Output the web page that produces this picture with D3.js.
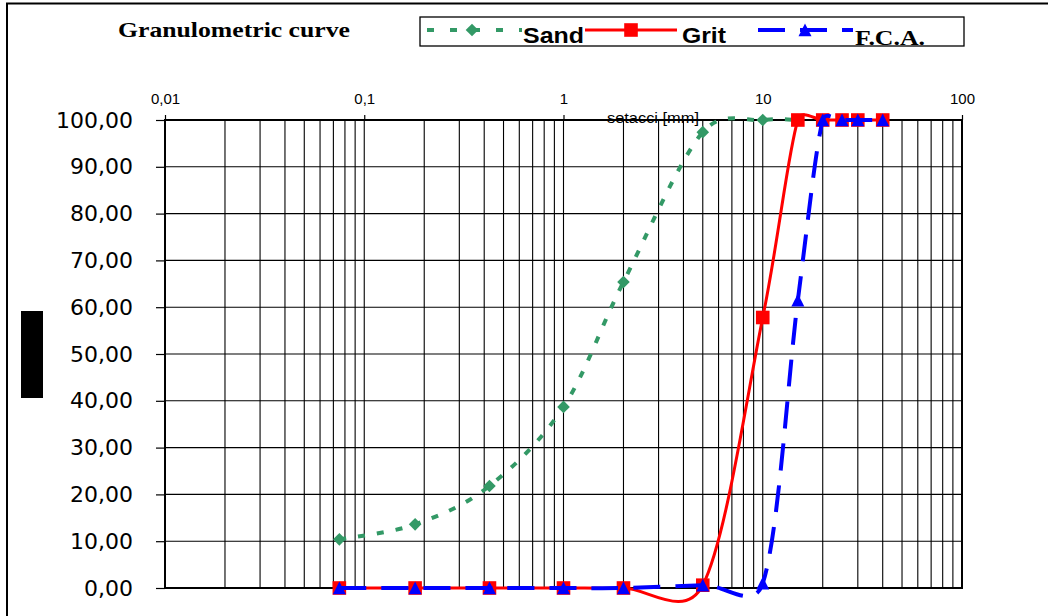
<!DOCTYPE html>
<html>
<head>
<meta charset="utf-8">
<script src="https://cdn.jsdelivr.net/npm/d3@7"></script>
<style>
  html, body { margin: 0; padding: 0; background: #fff; }
  svg { display: block; }
</style>
</head>
<body>
<svg id="chart" width="1048" height="616"></svg>
<script>
// Sieve openings (mm) and percentage passing for each aggregate
const sieveSizes   = [0.075, 0.18, 0.425, 1, 2, 5, 10, 15, 20, 25, 30, 40];
const sandPassing  = [10.4, 13.6, 21.8, 38.7, 65.4, 97.4, 100, 100];
const gritPassing  = [0, 0, 0, 0, 0, 0.6, 57.8, 100, 100, 100, 100, 100];
const fcaPassing   = [0, 0, 0, 0, 0, 0.6, 1.0, 61.5, 100, 100, 100, 100];

const seriesNames  = ["Sand", "Grit", "F.C.A."];
const xTickValues  = [0.01, 0.1, 1, 10, 100];
const yTickValues  = [0, 10, 20, 30, 40, 50, 60, 70, 80, 90, 100];

const colors = { sand: "#339966", grit: "#ff0000", fca: "#0000ff" };

const locale = d3.formatLocale({ decimal: ",", thousands: ".", grouping: [3], currency: ["", "€"] });
const fmtY = locale.format(".2f");
const fmtX = locale.format("~g");

// Spreadsheet-style smoothing: cubic Bezier segments whose control points follow
// the neighbour chord (1/6 of it), limited to half the length of the segment.
function curveSmoothLimited(context) {
  let pts = [];
  function ctrl(p, a, b, seg, sign) {
    let dx = (b[0] - a[0]) / 6, dy = (b[1] - a[1]) / 6;
    const len = Math.hypot(dx, dy);
    if (len > seg / 2 && len > 0) { const s = seg / 2 / len; dx *= s; dy *= s; }
    return [p[0] + sign * dx, p[1] + sign * dy];
  }
  return {
    areaStart() {}, areaEnd() {},
    lineStart() { pts = []; },
    point(px, py) { pts.push([+px, +py]); },
    lineEnd() {
      const n = pts.length;
      if (!n) return;
      context.moveTo(pts[0][0], pts[0][1]);
      for (let i = 0; i < n - 1; i++) {
        const p0 = pts[Math.max(i - 1, 0)], p1 = pts[i], p2 = pts[i + 1], p3 = pts[Math.min(i + 2, n - 1)];
        const seg = Math.hypot(p2[0] - p1[0], p2[1] - p1[1]);
        const c1 = ctrl(p1, p0, p2, seg, 1);
        const c2 = ctrl(p2, p1, p3, seg, -1);
        context.bezierCurveTo(c1[0], c1[1], c2[0], c2[1], p2[0], p2[1]);
      }
    }
  };
}

const svg = d3.select("#chart");

// plot frame
const x = d3.scaleLog().domain([0.01, 100]).range([165, 962]);
const y = d3.scaleLinear().domain([0, 100]).range([588, 120]);

// outer chart border (top and left edges)
svg.append("path")
  .attr("d", "M7,616 L7,3.5 L1048,3.5")
  .attr("fill", "none").attr("stroke", "#000").attr("stroke-width", 2);

// vertical grid: every k*10^n
const gridX = [];
for (let e = -2; e <= 1; e++) {
  for (let k = 1; k <= 9; k++) {
    const v = k * Math.pow(10, e);
    if (v > 0.01) gridX.push(v);
  }
}
const grid = svg.append("g");
grid.selectAll("line.vx").data(gridX).join("line")
  .attr("x1", d => x(d)).attr("x2", d => x(d))
  .attr("y1", y(100)).attr("y2", y(0))
  .attr("stroke", "#000").attr("stroke-width", 1.1);
grid.selectAll("line.hy").data(yTickValues.filter(v => v > 0 && v < 100)).join("line")
  .attr("x1", x(0.01)).attr("x2", x(100))
  .attr("y1", d => y(d)).attr("y2", d => y(d))
  .attr("stroke", "#000").attr("stroke-width", 1.1);

// plot area border
svg.append("rect")
  .attr("x", x(0.01)).attr("y", y(100))
  .attr("width", x(100) - x(0.01)).attr("height", y(0) - y(100))
  .attr("fill", "none").attr("stroke", "#000").attr("stroke-width", 2);

// left value axis
const yAxis = d3.axisLeft(y).tickValues(yTickValues).tickSize(9).tickPadding(23).tickFormat(fmtY);
const gy = svg.append("g").attr("transform", `translate(${x(0.01)},0)`).call(yAxis);
gy.select(".domain").remove();
gy.selectAll(".tick line").attr("stroke", "#000").attr("stroke-width", 1.2);
gy.selectAll(".tick text")
  .attr("fill", "#000")
  .style("font-family", "'DejaVu Sans', Verdana, sans-serif")
  .style("font-size", "22px");

// top sieve axis (log)
const xAxis = d3.axisTop(x).tickValues(xTickValues).tickSize(5).tickPadding(11).tickFormat(fmtX);
const gx = svg.append("g").attr("transform", `translate(0,${y(100)})`).call(xAxis);
gx.select(".domain").remove();
gx.selectAll(".tick line").attr("stroke", "#000").attr("stroke-width", 1.2);
gx.selectAll(".tick text")
  .attr("fill", "#000")
  .style("font-family", "'Liberation Sans', Arial, sans-serif")
  .style("font-size", "15px");

svg.append("text")
  .attr("x", 607).attr("y", 123)
  .attr("textLength", 92).attr("lengthAdjust", "spacingAndGlyphs")
  .style("font-family", "'Liberation Sans', Arial, sans-serif")
  .style("font-size", "14px")
  .text("setacci [mm]");

// markers
const markerPath = {
  diamond: "M0,-6.3L6.3,0L0,6.3L-6.3,0Z",
  square: "M-6.8,-6.8H6.8V6.8H-6.8Z",
  triangle: "M0,-6.5L6.5,6.3H-6.5Z"
};

// smoothed polyline through the sieve points
const line = d3.line()
  .x(d => x(d.size))
  .y(d => y(d.pass))
  .curve(curveSmoothLimited);

const series = [
  { key: "sand", values: sandPassing, dash: "7,12", width: 4, marker: "diamond" },
  { key: "grit", values: gritPassing, dash: null, width: 3, marker: "square" },
  { key: "fca",  values: fcaPassing,  dash: "27,15", width: 4, marker: "triangle" }
];

series.forEach(s => {
  const pts = s.values.map((v, i) => ({ size: sieveSizes[i], pass: v }));
  const g = svg.append("g");
  g.append("path")
    .datum(pts)
    .attr("d", line)
    .attr("fill", "none")
    .attr("stroke", colors[s.key])
    .attr("stroke-width", s.width)
    .attr("stroke-dasharray", s.dash);
  g.selectAll("path.m").data(pts).join("path")
    .attr("class", "m")
    .attr("transform", d => `translate(${x(d.size)},${y(d.pass)})`)
    .attr("d", markerPath[s.marker])
    .attr("fill", colors[s.key]);
});

// title
svg.append("text")
  .attr("x", 118).attr("y", 37)
  .attr("textLength", 232).attr("lengthAdjust", "spacingAndGlyphs")
  .style("font-family", "'Liberation Serif', 'Times New Roman', serif")
  .style("font-weight", "bold")
  .style("font-size", "22px")
  .text("Granulometric curve");

// legend
const lg = svg.append("g");
lg.append("rect")
  .attr("x", 420).attr("y", 17).attr("width", 544).attr("height", 29)
  .attr("fill", "#fff").attr("stroke", "#000").attr("stroke-width", 1.3);

const legendItems = [
  { key: "sand", name: seriesNames[0], x1: 427, x2: 522, mx: 472, dash: "7,16", width: 4, marker: "diamond",
    tx: 523, ty: 43, tl: 61, font: "'Liberation Sans', Arial, sans-serif" },
  { key: "grit", name: seriesNames[1], x1: 585, x2: 677, mx: 631, dash: null, width: 3, marker: "square",
    tx: 682, ty: 43, tl: 44, font: "'Liberation Sans', Arial, sans-serif" },
  { key: "fca", name: seriesNames[2], x1: 758, x2: 853, mx: 805, dash: "27,15", width: 4, marker: "triangle",
    tx: 855, ty: 45, tl: 70, font: "'Liberation Serif', 'Times New Roman', serif" }
];
legendItems.forEach(it => {
  lg.append("line")
    .attr("x1", it.x1).attr("x2", it.x2).attr("y1", 30).attr("y2", 30)
    .attr("stroke", colors[it.key]).attr("stroke-width", it.width)
    .attr("stroke-dasharray", it.dash);
  lg.append("path")
    .attr("transform", `translate(${it.mx},30)`)
    .attr("d", markerPath[it.marker])
    .attr("fill", colors[it.key]);
  lg.append("text")
    .attr("x", it.tx).attr("y", it.ty)
    .attr("textLength", it.tl).attr("lengthAdjust", "spacingAndGlyphs")
    .style("font-family", it.font)
    .style("font-weight", "bold")
    .style("font-size", "22px")
    .text(it.name);
});

// value-axis title block
svg.append("rect")
  .attr("x", 21).attr("y", 311).attr("width", 22).attr("height", 87)
  .attr("fill", "#000");
</script>
</body>
</html>
